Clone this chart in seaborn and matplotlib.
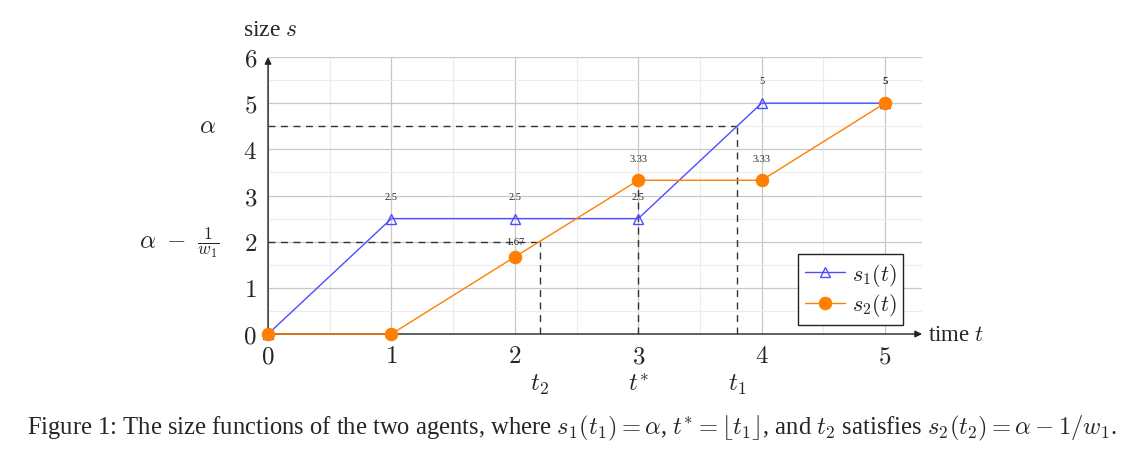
import numpy as np
import pandas as pd
import matplotlib
matplotlib.use("Agg")
import matplotlib.pyplot as plt
import seaborn as sns

# data
t = [0, 1, 2, 3, 4, 5]
s1 = [0, 2.5, 2.5, 2.5, 5, 5]
s2 = [0, 0, 1.67, 3.33, 3.33, 5]
s1_labels = ["", "2.5", "2.5", "2.5", "5", "5"]
s2_labels = ["", "", "1.67", "3.33", "3.33", "5"]

alpha = 4.5
alpha_minus = 2.0
t1 = 3.8
t2 = 2.2
t_star = 3

sns.set_style("white")
plt.rcParams['font.family'] = ['Liberation Serif', 'DejaVu Serif']
plt.rcParams['mathtext.fontset'] = 'cm'

blue = "#4d4dff"
orange = "#ff8000"

df = pd.DataFrame({"t": t, "s1": s1, "s2": s2})

fig = plt.figure(figsize=(11.44, 4.64), dpi=100)
ax = fig.add_axes([0.2343, 0.278, 0.5717, 0.597])

sns.lineplot(data=df, x="t", y="s1", ax=ax, color=blue, lw=1.0, marker="^",
             markersize=7, mfc="none", mec=blue, mew=1.0, label=r"$s_1(t)$",
             zorder=4, clip_on=False)
sns.lineplot(data=df, x="t", y="s2", ax=ax, color=orange, lw=1.0, marker="o",
             markersize=9, mfc=orange, mec=orange, label=r"$s_2(t)$",
             zorder=5, clip_on=False)

# value labels above the nodes
for x, y, lab in zip(t, s1, s1_labels):
    if lab:
        ax.annotate(lab, (x, y), xytext=(0, 16), textcoords="offset points",
                    ha="center", va="center", fontsize=7.5, zorder=6)
for x, y, lab in zip(t, s2, s2_labels):
    if lab:
        off = 11 if lab == "1.67" else 16
        ax.annotate(lab, (x, y), xytext=(0, off), textcoords="offset points",
                    ha="center", va="center", fontsize=7.5, zorder=6)

# dashed helper lines
dash = dict(color="#333333", lw=1.0, ls=(0, (5, 4)), zorder=3)
ax.plot([0, t1], [alpha, alpha], **dash)
ax.plot([t1, t1], [0, alpha], **dash)
ax.plot([0, t2], [alpha_minus, alpha_minus], **dash)
ax.plot([t2, t2], [0, alpha_minus], **dash)
ax.plot([t_star, t_star], [0, s2[3]], **dash)

ax.set_xlim(0, 5.3)
ax.set_ylim(0, 6)
ax.set_xticks(range(0, 6))
ax.set_yticks(range(0, 7))
ax.set_xticks(np.arange(0.5, 5.3, 0.5), minor=True)
ax.set_yticks(np.arange(0.5, 6, 0.5), minor=True)
ax.set_xticklabels([f"${v}$" for v in range(0, 6)], fontsize=18)
ax.set_yticklabels([f"${v}$" for v in range(0, 7)], fontsize=18)
ax.grid(which="major", color="#c8c8c8", lw=0.9)
ax.grid(which="minor", color="#ececec", lw=0.8)
ax.tick_params(axis="x", which="major", length=0, pad=8)
ax.tick_params(axis="y", which="major", length=0, pad=8)
ax.tick_params(axis="both", which="minor", length=4, direction="inout", color="#444444")
ax.set_xlabel("")
ax.set_ylabel("")
for sp in ax.spines.values():
    sp.set_visible(False)

# axis arrows
ax.annotate("", xy=(5.3, 0), xytext=(0, 0), xycoords="data",
            arrowprops=dict(arrowstyle="-|>", color="#222222", lw=1.0,
                            shrinkA=0, shrinkB=0, mutation_scale=10), zorder=2,
            annotation_clip=False)
ax.annotate("", xy=(0, 6), xytext=(0, 0), xycoords="data",
            arrowprops=dict(arrowstyle="-|>", color="#222222", lw=1.0,
                            shrinkA=0, shrinkB=0, mutation_scale=10), zorder=2,
            annotation_clip=False)

ax.text(5.35, 0, r"time $t$", fontsize=16.5, ha="left", va="center")
ax.text(-0.2, 6.6, r"size $s$", fontsize=17, ha="left", va="center", clip_on=False)

# extra labels
trans_x = ax.get_xaxis_transform()
for x, lab in [(t2, r"$t_2$"), (t_star, r"$t^{*}$"), (t1, r"$t_1$")]:
    ax.text(x, -0.18, lab, transform=trans_x, fontsize=18, ha="center", va="center")
trans_y = ax.get_yaxis_transform()
ax.text(-0.093, alpha, r"$\alpha$", transform=trans_y, fontsize=18, ha="center", va="center")
ax.text(-0.135, alpha_minus, r"$\alpha\ -\ \frac{1}{w_1}$", transform=trans_y,
        fontsize=18, ha="center", va="center")

leg = ax.legend(loc="lower right", bbox_to_anchor=(0.971, 0.032), fontsize=16,
                frameon=True, fancybox=False, edgecolor="#222222", framealpha=1,
                handlelength=1.8, handletextpad=0.3, borderpad=0.3,
                labelspacing=0.15, borderaxespad=0)
leg.get_frame().set_linewidth(1.0)

fig.text(0.5, 0.0776,
         r"Figure 1: The size functions of the two agents, where $s_1(t_1) = \alpha$, "
         r"$t^{*} = \lfloor t_1 \rfloor$, and $t_2$ satisfies $s_2(t_2) = \alpha - 1/w_1$.",
         fontsize=17.7, ha="center", va="center")

fig.savefig("out.png", dpi=100)
